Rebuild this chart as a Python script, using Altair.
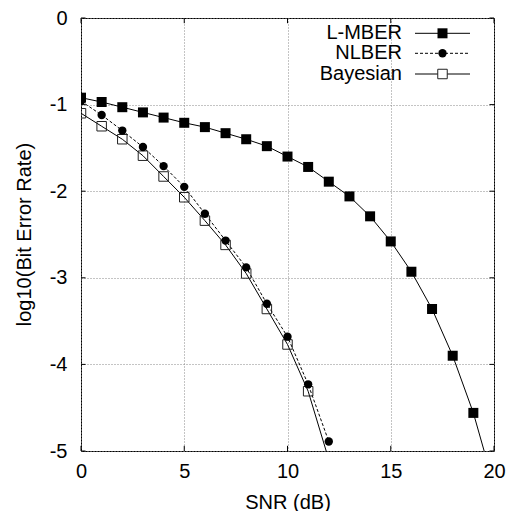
import altair as alt
import pandas as pd

snr_lmber = list(range(0, 21))
lmber = [-0.92, -0.97, -1.03, -1.09, -1.15, -1.21, -1.26, -1.33, -1.40, -1.48,
         -1.60, -1.72, -1.89, -2.06, -2.29, -2.58, -2.93, -3.36, -3.90, -4.56, -5.40]
snr_nl = list(range(0, 13))
nlber = [-0.96, -1.12, -1.30, -1.49, -1.71, -1.95, -2.26, -2.57, -2.88, -3.30,
         -3.68, -4.23, -4.89]
bayes = [-1.10, -1.25, -1.40, -1.59, -1.83, -2.07, -2.34, -2.62, -2.95, -3.36,
         -3.77, -4.31, -5.10]
series_names = ["L-MBER", "NLBER", "Bayesian"]
x_ticks = [0, 5, 10, 15, 20]
y_ticks = [0, -1, -2, -3, -4, -5]

FONT = "Liberation Sans"
FS = 20

df_l = pd.DataFrame({"snr": snr_lmber, "ber": lmber})
df_n = pd.DataFrame({"snr": snr_nl, "ber": nlber})
df_b = pd.DataFrame({"snr": snr_nl, "ber": bayes})

xs = alt.Scale(domain=[0, 20], nice=False, zero=False)
ys = alt.Scale(domain=[-5, 0], nice=False, zero=False)

xenc = alt.X("snr:Q", scale=xs, axis=alt.Axis(
    values=x_ticks, title="SNR (dB)", grid=True, gridDash=[1, 2], gridColor="#888888",
    domain=False, ticks=False, tickSize=0, labelPadding=20, labelBaseline="middle",
    labelFontSize=FS, labelFont=FONT, labelColor="black", titleFont=FONT,
    titleFontSize=FS, titleFontWeight="normal", titleColor="black", titleY=57,
    titleBaseline="alphabetic", labelFlush=False, labelExpr="'' + datum.value"))
yenc = alt.Y("ber:Q", scale=ys, axis=alt.Axis(
    values=y_ticks, title="log10(Bit Error Rate)", grid=True, gridDash=[1, 2],
    gridColor="#888888", domain=False, ticks=False, tickSize=0, labelPadding=14,
    labelFontSize=FS, labelFont=FONT, labelColor="black", titleFont=FONT,
    titleFontSize=FS, titleFontWeight="normal", titleColor="black", titleX=-51,
    titleY=216, titleBaseline="alphabetic", labelFlush=False,
    labelExpr="'' + datum.value"))

line_l = alt.Chart(df_l).mark_line(color="black", strokeWidth=1, clip=True).encode(x=xenc, y=yenc)
pts_l = alt.Chart(df_l).mark_point(shape="square", filled=True, color="black", size=100,
                                   opacity=1, clip=True).encode(x="snr:Q", y="ber:Q")
line_n = alt.Chart(df_n).mark_line(color="black", strokeWidth=1, strokeDash=[3, 2],
                                   clip=True).encode(x="snr:Q", y="ber:Q")
pts_n = alt.Chart(df_n).mark_point(shape="circle", filled=True, color="black", size=70,
                                   opacity=1, clip=True).encode(x="snr:Q", y="ber:Q")
line_b = alt.Chart(df_b).mark_line(color="black", strokeWidth=1, clip=True).encode(x="snr:Q", y="ber:Q")
pts_b = alt.Chart(df_b).mark_point(shape="square", filled=False, color="#222222", size=90,
                                   strokeWidth=1, opacity=1, fill="white", fillOpacity=0,
                                   clip=True).encode(x="snr:Q", y="ber:Q")

# inward ticks (gnuplot style), derived from tick lists
tx = pd.DataFrame({"t": x_ticks})
ty = pd.DataFrame({"t": y_ticks})
tick_bot = alt.Chart(tx).mark_rule(color="black", strokeWidth=1).encode(
    x="t:Q", y=alt.datum(-5), y2=alt.datum(-4.94))
tick_top = alt.Chart(tx).mark_rule(color="black", strokeWidth=1).encode(
    x="t:Q", y=alt.datum(0), y2=alt.datum(-0.06))
tick_left = alt.Chart(ty).mark_rule(color="black", strokeWidth=1).encode(
    y="t:Q", x=alt.datum(0), x2=alt.datum(0.22))
tick_right = alt.Chart(ty).mark_rule(color="black", strokeWidth=1).encode(
    y="t:Q", x=alt.datum(20), x2=alt.datum(19.78))

# legend
leg_layers = []
row_y = [15.3, 35.3, 56]
for i, name in enumerate(series_names):
    d = pd.DataFrame({"label": [name]})
    leg_layers.append(alt.Chart(d).mark_text(align="right", baseline="middle", font=FONT,
                                             fontSize=FS, color="black").encode(
        x=alt.value(321), y=alt.value(row_y[i]), text="label:N"))
    rule_kw = dict(color="black", strokeWidth=1)
    if name == "NLBER":
        rule_kw["strokeDash"] = [3, 2]
    leg_layers.append(alt.Chart(d).mark_rule(**rule_kw).encode(
        x=alt.value(334), x2=alt.value(389), y=alt.value(row_y[i])))
    if name == "L-MBER":
        pk = dict(shape="square", filled=True, color="black", size=100, opacity=1)
    elif name == "NLBER":
        pk = dict(shape="circle", filled=True, color="black", size=70, opacity=1)
    else:
        pk = dict(shape="square", filled=True, fill="white", stroke="#222222", size=90,
                  strokeWidth=1, opacity=1)
    leg_layers.append(alt.Chart(d).mark_point(**pk).encode(
        x=alt.value(361.5), y=alt.value(row_y[i])))

chart = alt.layer(line_l, line_n, line_b, pts_b, pts_n, pts_l,
                  tick_bot, tick_top, tick_left, tick_right, *leg_layers).properties(
    width=413, height=433,
    autosize=alt.AutoSizeParams(type="none"),
    padding={"left": 81, "top": 18, "right": 21, "bottom": 60},
    background="white",
).configure_view(stroke="black", strokeWidth=1)

chart.save("out.html", embed_options={"renderer": "svg", "actions": False})
